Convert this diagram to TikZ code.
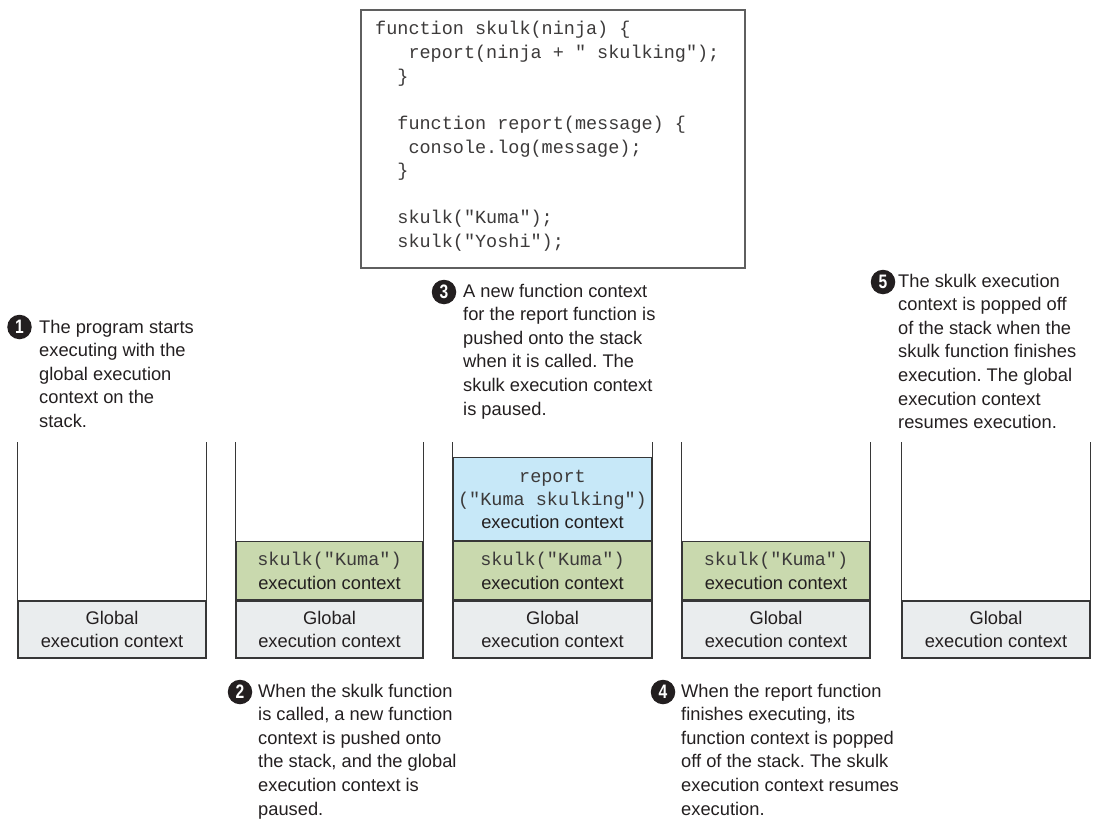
\documentclass[tikz,border=0pt]{standalone}
\usepackage{graphicx}
\usepackage{fontspec}
\setmainfont{Liberation Sans}
\setmonofont{Liberation Mono}
\frenchspacing
\definecolor{globalc}{RGB}{234,237,238}
\definecolor{skulkc}{RGB}{201,217,174}
\definecolor{reportc}{RGB}{199,232,248}
\definecolor{ink}{RGB}{35,31,32}
\definecolor{monoink}{RGB}{60,58,58}
\definecolor{framec}{RGB}{55,55,55}
\newcommand\notefnt{\fontsize{18.3bp}{23.6bp}\selectfont}
\newcommand\ctxfnt{\fontsize{18.3bp}{23.2bp}\selectfont}
\newcommand\codefnt{\ttfamily\fontsize{18.5bp}{23.6bp}\selectfont}
\newcommand\ctxmono[1]{{\ttfamily\fontsize{18.5bp}{23.2bp}\selectfont\color{monoink}#1}}
\newcommand\circfnt{\fontsize{19.5bp}{19.5bp}\selectfont\bfseries}
\tikzset{
  every node/.style={text=ink},
  framed/.style={draw=framec, line width=1.1bp},
  ctx/.style={framed, rectangle, inner sep=0pt, align=center, font=\ctxfnt},
  globalbox/.style={ctx, fill=globalc, minimum height=57bp},
  skulkbox/.style={ctx, fill=skulkc, minimum height=58bp},
  reportbox/.style={ctx, fill=reportc, minimum height=83bp},
  num/.style={circle, fill=ink, inner sep=0pt, minimum size=24.5bp, text=white, font=\circfnt},
  note/.style={anchor=base west, inner sep=0pt, font=\notefnt},
}
\newcommand\digit[1]{\scalebox{0.8}[1]{#1}}
\begin{document}
\begin{tikzpicture}[x=1bp, y=-1bp]
\useasboundingbox (0,0) rectangle (1096,819);
\coordinate (top) at (0,442);

% code box
\node[framed, draw=framec!80, minimum width=384bp, minimum height=258bp, inner sep=0pt] (code) at (553,139) {};
\node[anchor=base west, inner sep=0pt, text=monoink] (codetext) at (375,35) {\parbox[t]{360bp}{\codefnt
function skulk(ninja) \{\\
\phantom{xxx}report(ninja + " skulking");\\
\phantom{xx}\}\\
\mbox{}\\
\phantom{xx}function report(message) \{\\
\phantom{xxx}console.log(message);\\
\phantom{xx}\}\\
\mbox{}\\
\phantom{xx}skulk("Kuma");\\
\phantom{xx}skulk("Yoshi");}};

% stack 1
\node[globalbox, minimum width=188bp] (g1) at (112,629.5) {Global\\execution context};
\draw[framed] (g1.north west) -- (g1.north west |- top);
\draw[framed] (g1.north east) -- (g1.north east |- top);

% stack 2
\node[globalbox, minimum width=187bp] (g2) at (329.5,629.5) {Global\\execution context};
\node[skulkbox, minimum width=187bp, anchor=south] (s2) at (g2.north) {\ctxmono{skulk("Kuma")}\\execution context};
\draw[framed] (s2.north west) -- (s2.north west |- top);
\draw[framed] (s2.north east) -- (s2.north east |- top);

% stack 3
\node[globalbox, minimum width=199bp] (g3) at (552.5,629.5) {Global\\execution context};
\node[skulkbox, minimum width=199bp, anchor=south] (s3) at (g3.north) {\ctxmono{skulk("Kuma")}\\execution context};
\node[reportbox, minimum width=199bp, anchor=south] (r3) at (s3.north) {\ctxmono{report}\\\ctxmono{("Kuma skulking")}\\execution context};
\draw[framed] (r3.north west) -- (r3.north west |- top);
\draw[framed] (r3.north east) -- (r3.north east |- top);

% stack 4
\node[globalbox, minimum width=188bp] (g4) at (776,629.5) {Global\\execution context};
\node[skulkbox, minimum width=188bp, anchor=south] (s4) at (g4.north) {\ctxmono{skulk("Kuma")}\\execution context};
\draw[framed] (s4.north west) -- (s4.north west |- top);
\draw[framed] (s4.north east) -- (s4.north east |- top);

% stack 5
\node[globalbox, minimum width=188bp] (g5) at (996,629.5) {Global\\execution context};
\draw[framed] (g5.north west) -- (g5.north west |- top);
\draw[framed] (g5.north east) -- (g5.north east |- top);

% annotations
\node[num] (n1) at (19.5,327) {\digit{1}};
\node[note] (t1) at (39,333) {\parbox[t]{200bp}{The program starts\\executing with the\\global execution\\context on the\\stack.}};

\node[num] (n2) at (240,692) {\digit{2}};
\node[note] (t2) at (258,697) {\parbox[t]{220bp}{When the skulk function\\is called, a new function\\context is pushed onto\\the stack, and the global\\execution context is\\paused.}};

\node[num] (n3) at (444,292) {\digit{3}};
\node[note] (t3) at (463,297) {\parbox[t]{220bp}{A new function context\\for the report function is\\pushed onto the stack\\when it is called. The\\skulk execution context\\is paused.}};

\node[num] (n4) at (663,692) {\digit{4}};
\node[note] (t4) at (681,697) {\parbox[t]{220bp}{When the report function\\finishes executing, its\\function context is popped\\off of the stack. The skulk\\execution context resumes\\execution.}};

\node[num] (n5) at (883,282) {\digit{5}};
\node[note] (t5) at (898,287) {\parbox[t]{200bp}{The skulk execution\\context is popped off\\of the stack when the\\skulk function finishes\\execution. The global\\execution context\\resumes execution.}};
\end{tikzpicture}
\end{document}
